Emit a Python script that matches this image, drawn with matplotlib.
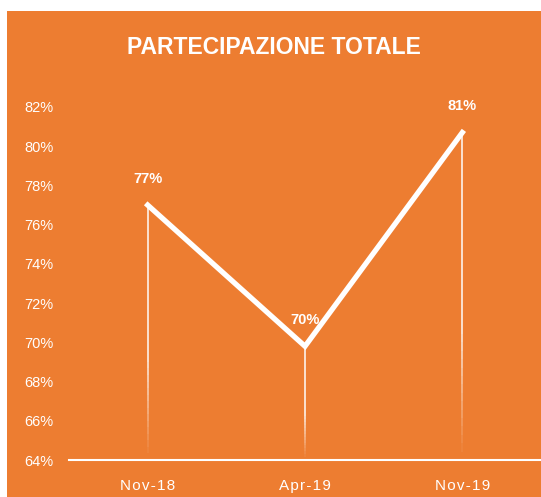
import numpy as np
import matplotlib.pyplot as plt
from matplotlib.patches import Rectangle
from matplotlib.collections import LineCollection

# dati
mesi = ["Nov-18", "Apr-19", "Nov-19"]
partecipazione = [77.0, 69.8, 80.7]
etichette = ["77%", "70%", "81%"]
tick_y = [64, 66, 68, 70, 72, 74, 76, 78, 80, 82]

arancio = "#ED7D31"
plt.rcParams['font.family'] = ['Liberation Sans Narrow', 'Liberation Sans', 'DejaVu Sans']

fig = plt.figure(figsize=(5.41, 4.97), dpi=100)
fig.patch.set_facecolor("white")
# riquadro arancione
fig.patches.append(Rectangle((7 / 541, 0), 1, 1 - 11 / 497, transform=fig.transFigure,
                             facecolor=arancio, edgecolor="none", zorder=-10))

ax = fig.add_axes([69 / 541, 1 - 460 / 497, 1 - 69 / 541, (460 - 107) / 497])
ax.set_zorder(5)
ax.set_facecolor("none")
x = np.arange(len(mesi)) + 0.5
ax.set_xlim(0, 3)
ax.set_ylim(64, 82)

# linee verticali che sfumano verso il basso
for xi, yi in zip(x, partecipazione):
    ys = np.linspace(64, yi, 40)
    segs = [[(xi, ys[i]), (xi, ys[i + 1])] for i in range(len(ys) - 1)]
    alphas = np.clip(np.linspace(0.0, 2.5, len(segs)), 0, 1)
    cols = [(1, 1, 1, a * 0.9) for a in alphas]
    ax.add_collection(LineCollection(segs, colors=cols, linewidths=1.2, zorder=2))

ax.plot(x, partecipazione, color="white", lw=3.8, solid_joinstyle="miter", zorder=3)

for xi, yi, lab in zip(x, partecipazione, etichette):
    ax.annotate(lab, (xi, yi), xytext=(0, 14), textcoords="offset points",
                ha="center", va="bottom", color="white", fontsize=10.5,
                fontweight="bold", zorder=4)

ax.set_xticks(x)
ax.set_xticklabels(["\u200a".join(m) for m in mesi], fontsize=11, color="white")
ax.set_yticks(tick_y)
ax.set_yticklabels([f"{t}%" for t in tick_y], fontsize=10.5, color="white")
ax.tick_params(length=0, pad=11)
ax.tick_params(axis="x", pad=14)

for s in ["top", "right", "left"]:
    ax.spines[s].set_visible(False)
ax.spines["bottom"].set_color("white")
ax.spines["bottom"].set_linewidth(1.5)

fig.text(0.5 + 7 / 541 / 2, 1 - 48 / 497, "PARTECIPAZIONE TOTALE", ha="center", va="center",
         color="white", fontsize=16.5, fontweight="bold", zorder=6)

fig.savefig("out.png", dpi=100, facecolor=fig.get_facecolor())
